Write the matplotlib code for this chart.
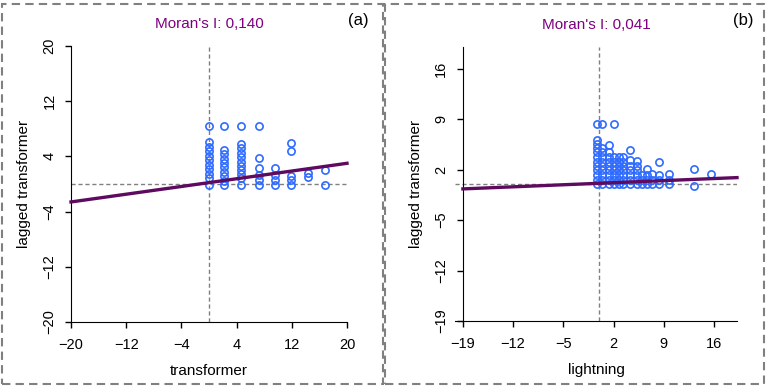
import matplotlib.pyplot as plt
from matplotlib.patches import Rectangle

plt.rcParams['font.family'] = ['Liberation Sans', 'DejaVu Sans']

# panel (a): transformer vs lagged transformer
a_cols_x = [0.0, 2.2, 4.7, 7.2, 9.6, 11.9, 14.4, 16.8]
a_cols_y = [
    [-0.15, 0.83, 1.46, 2.14, 2.77, 3.49, 4.12, 4.85, 5.43, 6.07, 8.44],
    [-0.1, 0.5, 1.16, 1.8, 2.4, 3.0, 3.6, 4.3, 4.95, 8.44],
    [-0.15, 0.83, 1.46, 2.04, 2.62, 3.25, 3.97, 4.56, 5.2, 5.78, 8.44],
    [-0.15, 0.6, 1.3, 2.3, 3.8, 8.44],
    [-0.15, 0.58, 1.3, 2.28],
    [-0.15, 0.58, 1.16, 4.8, 6.0],
    [1.06, 1.56],
    [-0.2, 2.1],
]
a_moran = 0.140
a_icept = 0.2
a_ticks = [-20, -12, -4, 4, 12, 20]

# panel (b): lightning vs lagged transformer
b_cols_x = [-0.3, 0.4, 1.3, 2.0, 2.7, 3.3, 4.3, 5.3, 6.0, 6.6, 7.3, 8.3, 9.7, 13.2, 15.6]
b_cols_y = [
    [0, 0.6, 1.2, 1.9, 2.5, 3.1, 3.8, 4.4, 5.0, 5.6, 6.1, 8.3],
    [0, 0.6, 1.2, 1.9, 2.5, 3.1, 3.8, 4.4, 5.0, 8.3],
    [0, 0.6, 1.2, 1.9, 2.5, 3.1, 3.8, 4.4, 5.4],
    [0, 0.6, 1.2, 1.9, 2.5, 3.1, 3.8, 8.3],
    [0, 0.6, 1.2, 1.9, 2.5, 3.1, 3.8],
    [0, 0.6, 1.2, 1.9, 2.5, 3.1, 3.8],
    [0, 0.6, 1.2, 1.9, 2.5, 3.3, 4.7],
    [0, 0.6, 1.2, 1.9, 2.5, 3.2],
    [0, 0.6, 1.2],
    [0, 0.6, 1.2, 2.1],
    [0, 0.6, 1.4],
    [0, 0.5, 1.2, 3.0],
    [0, 0.5, 1.4],
    [-0.3, 2.1],
    [1.35],
]
b_moran = 0.041
b_icept = 0.1
b_ticks = [-19, -12, -5, 2, 9, 16]

W, H = 770, 387
fig = plt.figure(figsize=(W / 100, H / 100), dpi=100)

pt_col = '#2f6bff'
line_col = '#5e0a5e'
title_col = '#800080'

panels = [
    dict(box=(71, 347, 46, 322), xlim=(-20, 20), ylim=(-20, 20), yaxis_at=-20,
         cx=a_cols_x, cy=a_cols_y, moran=a_moran, icept=a_icept, ticks=a_ticks,
         line_x=(-20, 20), xlabel='transformer', tag='(a)', tag_x=358),
    dict(box=(455, 737, 47, 321), xlim=(-20.1, 19.2), ylim=(-19, 19), yaxis_at=-19,
         cx=b_cols_x, cy=b_cols_y, moran=b_moran, icept=b_icept, ticks=b_ticks,
         line_x=(-19, 19.2), xlabel='lightning', tag='(b)', tag_x=743),
]

for p in panels:
    x0, x1, y0, y1 = p['box']
    ax = fig.add_axes([x0 / W, 1 - y1 / H, (x1 - x0) / W, (y1 - y0) / H])
    ax.set_xlim(*p['xlim'])
    ax.set_ylim(*p['ylim'])
    for s in ['top', 'right']:
        ax.spines[s].set_visible(False)
    ax.spines['left'].set_position(('data', p['yaxis_at']))
    ax.spines['left'].set_bounds(*p['ylim'])
    ax.spines['bottom'].set_bounds(*p['xlim'])

    ax.axvline(0, color='#808080', lw=1, ls=(0, (3, 2)), zorder=1)
    ax.axhline(0, color='#808080', lw=1, ls=(0, (3, 2)), zorder=1)

    for xv, ys in zip(p['cx'], p['cy']):
        ax.plot([xv] * len(ys), ys, 'o', ms=5.2, mfc='none', mec=pt_col, mew=1.2,
                zorder=3, clip_on=False)

    lx = list(p['line_x'])
    ly = [p['icept'] + p['moran'] * v for v in lx]
    ax.plot(lx, ly, color=line_col, lw=2.4, zorder=4, clip_on=False)

    ax.set_xticks(p['ticks'])
    ax.set_yticks(p['ticks'])
    ax.tick_params(direction='out', length=4.5, width=1, labelsize=10.5, pad=7)
    ax.tick_params(axis='y', pad=6)
    plt.setp(ax.get_yticklabels(), rotation=90, va='center')
    ax.set_xlabel(p['xlabel'], fontsize=11, labelpad=9)
    ax.set_ylabel('lagged transformer', fontsize=11, labelpad=8)
    ax.set_title("Moran's I: " + f"{p['moran']:.3f}".replace('.', ','),
                 color=title_col, fontsize=11, pad=13)
    fig.text(p['tag_x'] / W, 1 - 21 / H, p['tag'], fontsize=12, ha='center', va='center')

# dashed panel frames
for (l, r) in [(2, 383), (385, 764)]:
    fig.patches.append(Rectangle((l / W, 3 / H), (r - l) / W, (H - 7) / H,
                                 transform=fig.transFigure, fill=False,
                                 ec='#808080', lw=1.5, ls=(0, (4, 2.5))))

fig.savefig('out.png', dpi=100)
